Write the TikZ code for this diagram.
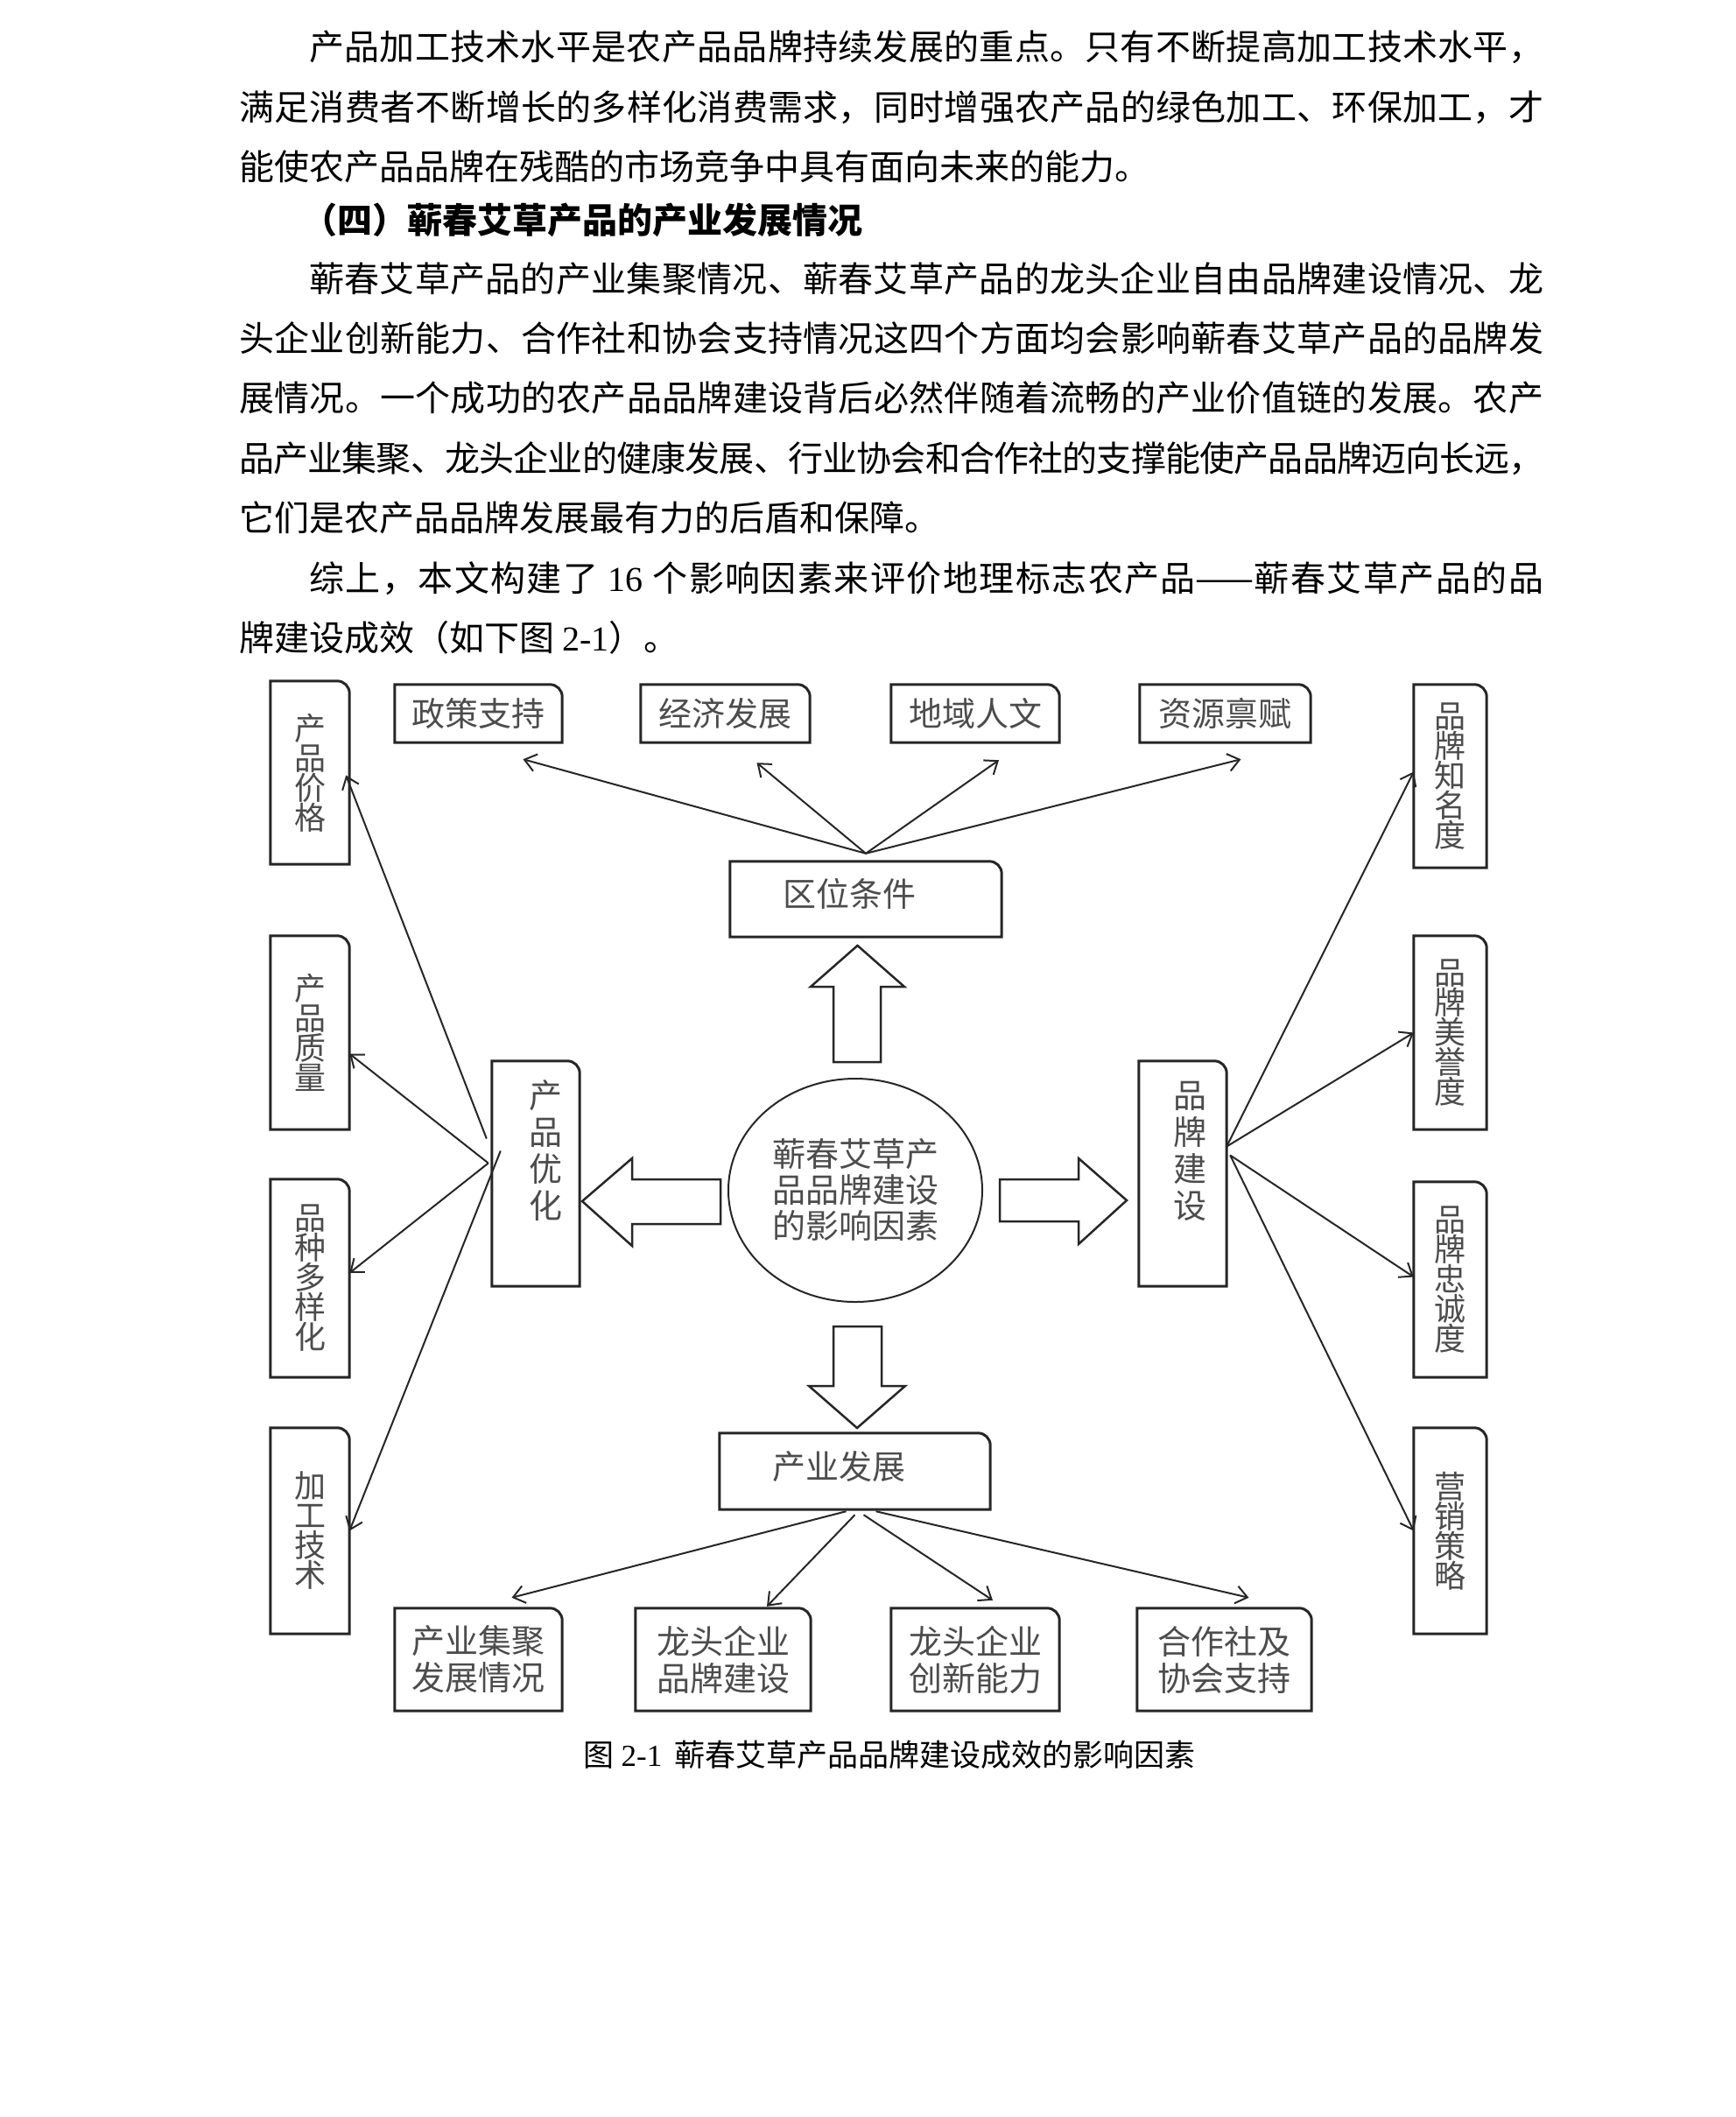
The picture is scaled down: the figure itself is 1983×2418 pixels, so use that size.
\documentclass[tikz,border=0pt]{standalone}
\usepackage{fontspec}
\setmainfont{Noto Sans CJK SC}
\newfontfamily\latin{Liberation Serif}
\usetikzlibrary{shapes.geometric,arrows.meta}

% glue between CJK characters, so that full lines can be justified
\newcount\cjkc
\cjkc="4E00
\loop\ifnum\cjkc<"9FA6 \XeTeXcharclass\cjkc=1 \advance\cjkc by 1 \repeat
\XeTeXcharclass"FF0C=1
\XeTeXcharclass"3002=1
\XeTeXcharclass"3001=1
\XeTeXcharclass"FF08=1
\XeTeXcharclass"FF09=1
\XeTeXinterchartokenstate=1
\XeTeXinterchartoks 1 1 = {\hskip 0pt plus 3pt minus 3pt\relax}

\newcommand\bodyfont{\fontsize{40}{68}\selectfont}
\newcommand\tagfont{\fontsize{38}{42}\selectfont}
\newcommand\pillarfont{\fontsize{36}{34}\selectfont}
\newcommand\capfont{\fontsize{35}{40}\selectfont}
\newcommand\fullline{1490pt}
\newcommand\indline{1410pt}
\newcommand\tabframe[1]{%
  \draw[tabline] (#1.south west) -- (#1.north west) -- ([xshift=-14pt]#1.north east)
    arc[start angle=90,end angle=0,radius=14pt] -- (#1.south east) -- cycle;}

\begin{document}
\begin{tikzpicture}[x=1pt,y=-1pt,
    tabline/.style={line width=3pt,draw=black!85},
    tag/.style={inner sep=0pt,font=\tagfont,text=black!70,align=center},
    pillar/.style={inner sep=0pt,font=\pillarfont,text=black!70,align=center},
    link/.style={-{Straight Barb[length=13pt,width=20pt]},line width=2pt,draw=black!85},
    fat/.style={line width=2.5pt,draw=black!85,line join=miter},
    para/.style={anchor=base west,inner sep=0pt,font=\bodyfont}]
    \useasboundingbox (0,0) rectangle (1983,2418);

    % text above the figure
    \node[para] (l1) at (353,68) {\makebox[\indline][s]{产品加工技术水平是农产品品牌持续发展的重点。只有不断提高加工技术水平，}};
    \node[para] (l2) at (273,137) {\makebox[\fullline][s]{满足消费者不断增长的多样化消费需求，同时增强农产品的绿色加工、环保加工，才}};
    \node[para] (l3) at (273,205) {能使农产品品牌在残酷的市场竞争中具有面向未来的能力。};
    \node[para,font=\bodyfont\bfseries] (head) at (345,266) {（四）蕲春艾草产品的产业发展情况};
    \node[para] (l5) at (353,333) {\makebox[\indline][s]{蕲春艾草产品的产业集聚情况、蕲春艾草产品的龙头企业自由品牌建设情况、龙}};
    \node[para] (l6) at (273,401) {\makebox[\fullline][s]{头企业创新能力、合作社和协会支持情况这四个方面均会影响蕲春艾草产品的品牌发}};
    \node[para] (l7) at (273,469) {\makebox[\fullline][s]{展情况。一个成功的农产品品牌建设背后必然伴随着流畅的产业价值链的发展。农产}};
    \node[para] (l8) at (273,538) {\makebox[\fullline][s]{品产业集聚、龙头企业的健康发展、行业协会和合作社的支撑能使产品品牌迈向长远，}};
    \node[para] (l9) at (273,606) {它们是农产品品牌发展最有力的后盾和保障。};
    \node[para] (l10) at (353,675) {\makebox[\indline][s]{综上，本文构建了 {\latin 16} 个影响因素来评价地理标志农产品——蕲春艾草产品的品}};
    \node[para] (l11) at (273,743) {牌建设成效（如下图 {\latin 2-1}）。};

    % left column
    \node[pillar,minimum width=90pt,minimum height=209pt] (price)   at (354,882.5)  {产\\品\\价\\格};
    \node[pillar,minimum width=90pt,minimum height=221pt] (quality) at (354,1179.5) {产\\品\\质\\量};
    \node[pillar,minimum width=90pt,minimum height=226pt] (variety) at (354,1460)   {品\\种\\多\\样\\化};
    \node[pillar,minimum width=90pt,minimum height=235pt] (craft)   at (354,1748.5) {加\\工\\技\\术};

    % right column
    \node[pillar,minimum width=83pt,minimum height=209pt] (fame)    at (1656.5,886.5)  {品\\牌\\知\\名\\度};
    \node[pillar,minimum width=83pt,minimum height=221pt] (repute)  at (1656.5,1179.5) {品\\牌\\美\\誉\\度};
    \node[pillar,minimum width=83pt,minimum height=223pt] (loyalty) at (1656.5,1461.5) {品\\牌\\忠\\诚\\度};
    \node[pillar,minimum width=83pt,minimum height=235pt] (market)  at (1656.5,1748.5) {营\\销\\策\\略};

    % top row
    \node[tag,minimum width=191pt,minimum height=66pt] (policy)   at (546.5,815)  {政策支持};
    \node[tag,minimum width=193pt,minimum height=66pt] (economy)  at (828.5,815)  {经济发展};
    \node[tag,minimum width=192pt,minimum height=66pt] (culture)  at (1114,815)   {地域人文};
    \node[tag,minimum width=195pt,minimum height=66pt] (resource) at (1399.5,815)  {资源禀赋};

    % bottom row
    \node[tag,minimum width=191pt,minimum height=117pt] (cluster)   at (546.5,1895.5) {产业集聚\\发展情况};
    \node[tag,minimum width=200pt,minimum height=117pt] (leadbrand) at (826,1895.5)   {龙头企业\\品牌建设};
    \node[tag,minimum width=192pt,minimum height=117pt] (leadinno)  at (1114,1895.5)  {龙头企业\\创新能力};
    \node[tag,minimum width=199pt,minimum height=117pt] (coop)      at (1398.5,1895.5) {合作社及\\协会支持};

    % hubs
    \node[tag,minimum width=310pt,minimum height=86pt]  (location) at (989,1027)    {};
    \node[tag,minimum width=309pt,minimum height=87pt]  (industry) at (976.5,1680.5) {};
    \node[pillar,minimum width=100pt,minimum height=257pt] (optimize) at (612,1340.5)  {};
    \node[pillar,minimum width=100pt,minimum height=257pt] (brand)    at (1351,1340.5) {};
    \node[tag] (locationtext) at (970,1021)  {区位条件};
    \node[tag] (industrytext) at (958,1675)  {产业发展};
    \node[pillar,font=\tagfont,text depth=0pt] (optimizetext) at (623,1313) {产\\品\\优\\化};
    \node[pillar,font=\tagfont,text depth=0pt] (brandtext)    at (1359,1313) {品\\牌\\建\\设};

    \foreach \n in {price,quality,variety,craft,fame,repute,loyalty,market,
                    policy,economy,culture,resource,cluster,leadbrand,leadinno,coop,
                    location,industry,optimize,brand}
      \tabframe{\n};

    % core
    \node[ellipse,draw=black!85,line width=2pt,minimum width=290pt,minimum height=255pt,
          inner sep=0pt,align=center,font=\fontsize{38}{41}\selectfont,text=black!70] (core)
          at (977,1359.5) {蕲春艾草产\\品品牌建设\\的影响因素};

    % block arrows
    \draw[fat] (952,1213) -- (952,1127) -- (926,1127) -- (979.5,1080) -- (1033,1127) -- (1006,1127) -- (1006,1213) -- cycle;
    \draw[fat] (952,1515) -- (952,1583) -- (924,1583) -- (979,1631) -- (1034,1583) -- (1007,1583) -- (1007,1515) -- cycle;
    \draw[fat] (823,1347) -- (722,1347) -- (722,1323) -- (665,1372) -- (722,1423) -- (722,1398) -- (823,1398) -- cycle;
    \draw[fat] (1142,1347) -- (1232,1347) -- (1232,1323) -- (1287,1371) -- (1232,1421) -- (1232,1395) -- (1142,1395) -- cycle;

    % location fan
    \coordinate (lc) at ([yshift=9pt]location.north);
    \draw[link] (lc) -- ([shift={(51,19)}]policy.south);
    \draw[link] (lc) -- ([shift={(36,23)}]economy.south);
    \draw[link] (lc) -- ([shift={(27,20)}]culture.south);
    \draw[link] (lc) -- ([shift={(18,19)}]resource.south);

    % optimize fan
    \coordinate (oa) at ([shift={(-6,-40)}]optimize.west);
    \coordinate (ob) at ([shift={(-4,-12)}]optimize.west);
    \coordinate (oc) at ([shift={(10,-26)}]optimize.west);
    \draw[link] (oa) -- ([shift={(-4,3)}]price.east);
    \draw[link] (ob) -- ([shift={(0,24)}]quality.east);
    \draw[link] (ob) -- ([shift={(0,-6)}]variety.east);
    \draw[link] (oc) -- (craft.east);

    % brand fan
    \coordinate (ba) at ([shift={(0,-31)}]brand.east);
    \coordinate (bb) at ([shift={(4,-21)}]brand.east);
    \draw[link] (ba) -- ([shift={(0,-5)}]fame.west);
    \draw[link] (ba) -- (repute.west);
    \draw[link] (bb) -- ([shift={(0,-3)}]loyalty.west);
    \draw[link] (bb) -- (market.west);

    % industry fan
    \draw[link] ([shift={(-10,2)}]industry.south) -- ([shift={(38,-12)}]cluster.north);
    \draw[link] ([shift={(0,6)}]industry.south)   -- ([shift={(50,-2)}]leadbrand.north);
    \draw[link] ([shift={(10,6)}]industry.south)  -- ([shift={(20,-9)}]leadinno.north);
    \draw[link] ([shift={(24,2)}]industry.south)  -- ([shift={(28,-12)}]coop.north);

    % caption
    \node[inner sep=0pt,font=\capfont] (caption) at (1016,2004)
      {图 {\latin 2-1}\hspace{14pt}蕲春艾草产品品牌建设成效的影响因素};
\end{tikzpicture}
\end{document}
